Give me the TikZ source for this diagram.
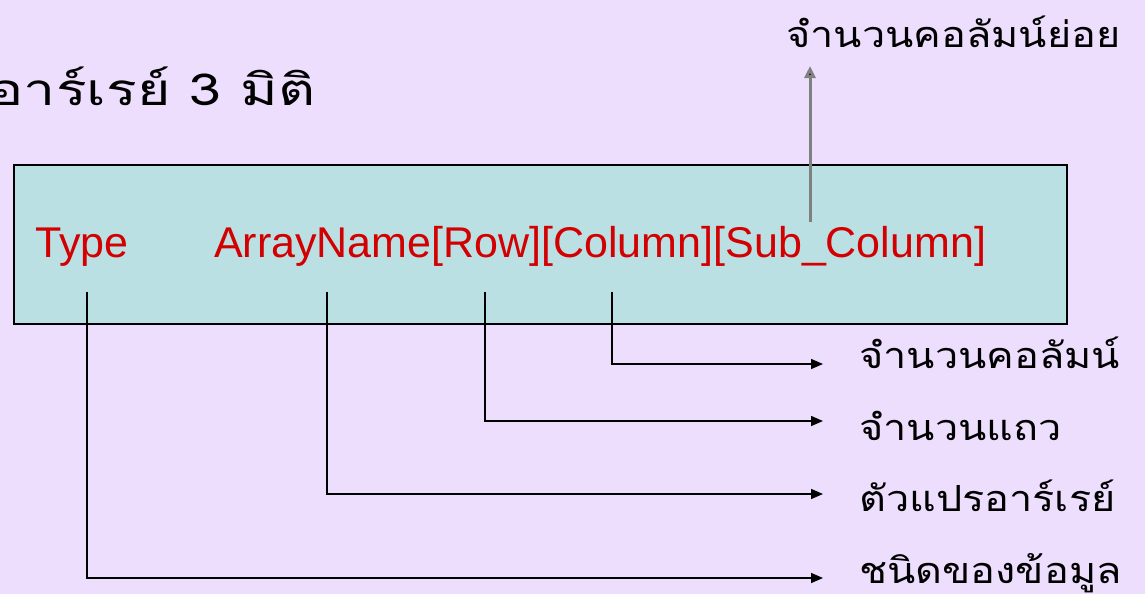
\documentclass[tikz,border=0pt]{standalone}
\usepackage{fontspec}
\usetikzlibrary{arrows.meta}
\newfontfamily\thaifont[Script=Thai,FakeStretch=1.15]{Loma}
\newfontfamily\thaititle[Script=Thai,FakeStretch=1.3]{Loma}
\newfontfamily\arialfont{Liberation Sans}
\definecolor{bgc}{RGB}{238,222,254}
\definecolor{boxc}{RGB}{186,224,227}
\definecolor{redc}{RGB}{210,0,0}
\definecolor{greyc}{RGB}{128,128,128}
\begin{document}
\begin{tikzpicture}[x=1pt,y=-1pt,
  redtxt/.style={inner sep=0pt,anchor=base west,text=redc,font=\arialfont\fontsize{43}{50}\selectfont},
  thlbl/.style={inner sep=0pt,anchor=base west,font=\thaifont\fontsize{36}{44}\selectfont},
  conn/.style={line width=1.5pt,-{Triangle[length=12pt,width=10pt]}},
  subconn/.style={line width=3pt,greyc,-{Triangle[length=12pt,width=11pt,fill=black]}}]
\fill[bgc] (0,0) rectangle (1145,594);
\useasboundingbox (0,0) rectangle (1145,594);
% box
\node[draw=black,line width=1.5pt,fill=boxc,minimum width=1053pt,minimum height=159pt,inner sep=0pt,anchor=north west] (box) at (13,164) {};
% title
\node[inner sep=0pt,anchor=base east,font=\thaititle\fontsize{44}{52}\selectfont] (title) at (316,105) {อาร์เรย์ 3 มิติ};
% red declaration
\node[redtxt] (type) at (35,257) {Type};
\node[redtxt] (decl) at (214,257) {ArrayName[Row][Column][Sub\_Column]};
% labels
\node[thlbl] (lsub) at (786,48) {จำนวนคอลัมน์ย่อย};
\node[thlbl] (lcol) at (859,368) {จำนวนคอลัมน์};
\node[thlbl] (lrow) at (859,440) {จำนวนแถว};
\node[thlbl] (lvar) at (859,511) {ตัวแปรอาร์เรย์};
\node[thlbl] (ltype) at (859,583) {ชนิดของข้อมูล};
% connector coordinates
\coordinate (sT) at (87,292);
\coordinate (sA) at (327,292);
\coordinate (sR) at (485,292);
\coordinate (sC) at (612,292);
\coordinate (sS) at (810,222);
\coordinate (eC) at (823,364);
\coordinate (eR) at (823,421);
\coordinate (eA) at (823,494);
\coordinate (eT) at (823,578);
\coordinate (eS) at (810,66);
\draw[conn] (sC) |- (eC);
\draw[conn] (sR) |- (eR);
\draw[conn] (sA) |- (eA);
\draw[conn] (sT) |- (eT);
\draw[subconn] (sS) -- (eS);
\end{tikzpicture}
\end{document}
